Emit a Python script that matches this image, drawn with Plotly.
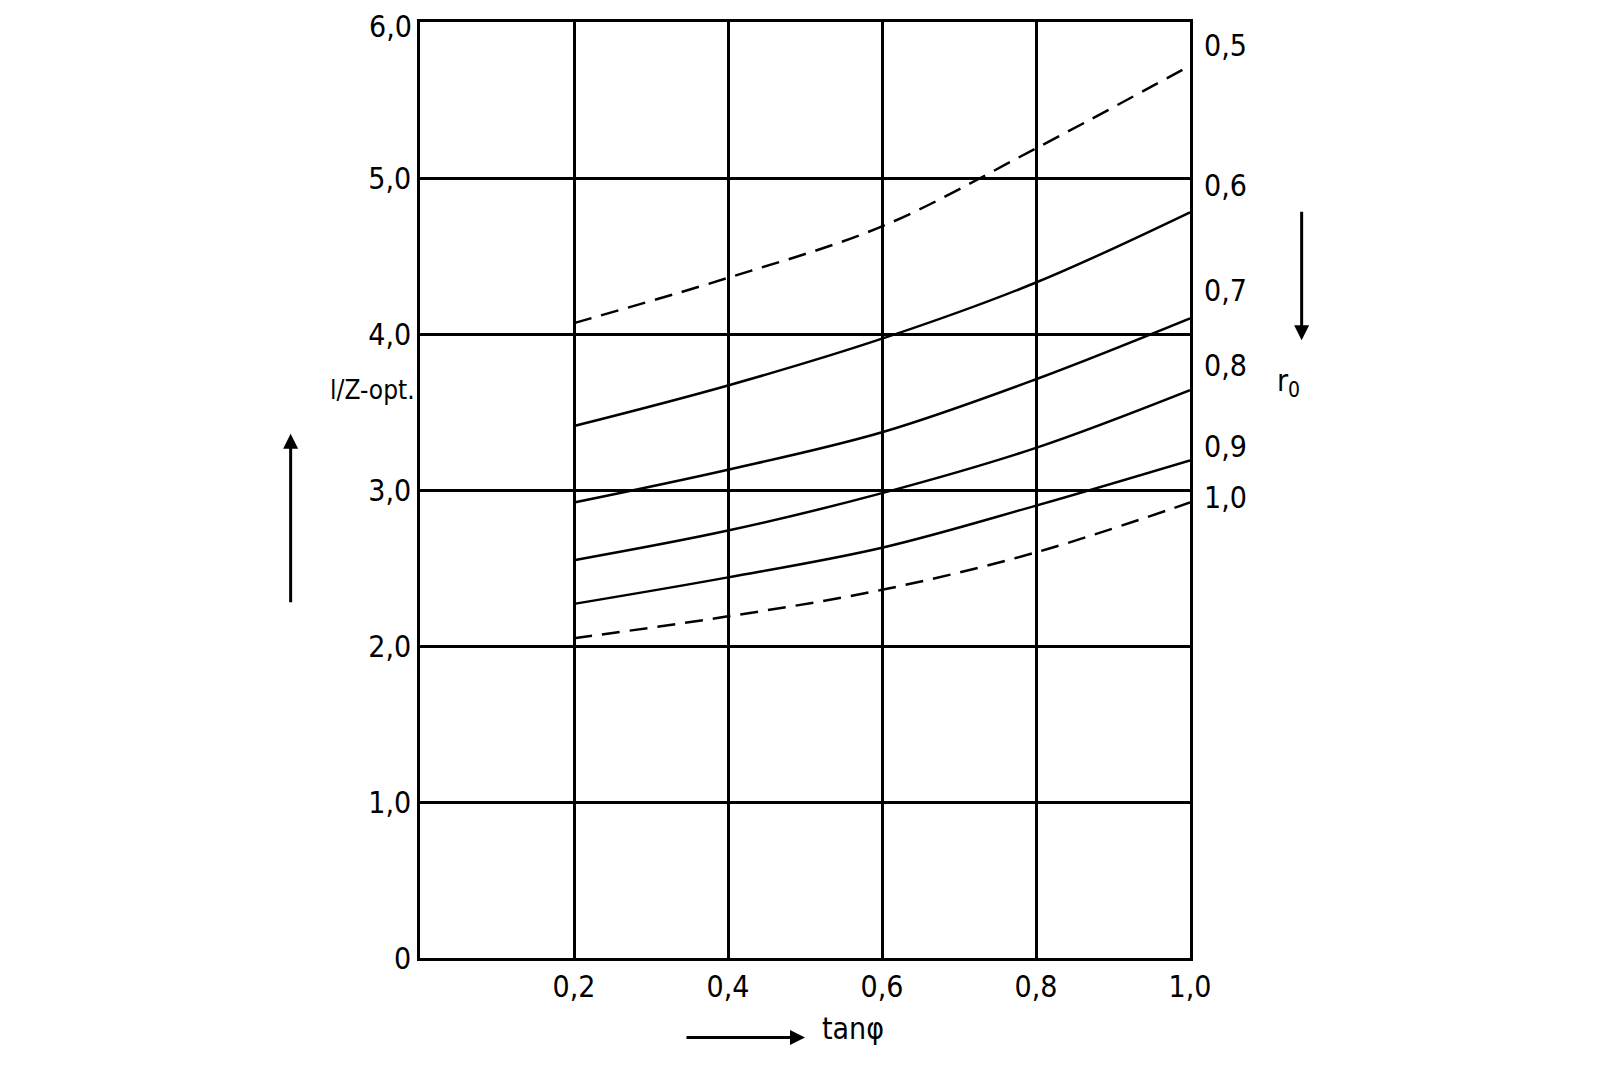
import plotly.graph_objects as go

x = [0.2, 0.4, 0.6, 0.8, 1.0]
curves = {
    "0,5": [4.07, 4.36, 4.69, 5.19, 5.72],
    "0,6": [3.41, 3.67, 3.97, 4.33, 4.78],
    "0,7": [2.92, 3.13, 3.37, 3.71, 4.10],
    "0,8": [2.55, 2.74, 2.98, 3.27, 3.64],
    "0,9": [2.27, 2.44, 2.63, 2.90, 3.19],
    "1,0": [2.05, 2.19, 2.36, 2.60, 2.92],
}
dashed = {"0,5", "1,0"}
label_y = {"0,5": 5.85, "0,6": 4.95, "0,7": 4.28, "0,8": 3.8, "0,9": 3.28, "1,0": 2.95}
yticks = [0, 1, 2, 3, 4, 5, 6]
ytext = ["0", "1,0", "2,0", "3,0", "4,0", "5,0", "6,0"]
xticks = [0.2, 0.4, 0.6, 0.8, 1.0]
xtext = ["0,2", "0,4", "0,6", "0,8", "1,0"]

F = dict(family="DejaVu Sans Condensed, DejaVu Sans", size=30, color="black")
fig = go.Figure()
for name, ys in curves.items():
    fig.add_trace(go.Scatter(x=x, y=ys, mode="lines", line_shape="spline",
                             line=dict(color="black", width=2.5,
                                       dash="18px,10px" if name in dashed else "solid"),
                             showlegend=False))
    fig.add_annotation(x=1.0, y=label_y[name], text=name, showarrow=False,
                       xanchor="left", xshift=12, font=F)

# top tick label (drawn as annotation so it is not clipped at the page edge)
fig.add_annotation(xref="paper", x=0, y=yticks[-1], text=ytext[-1], showarrow=False,
                   xanchor="right", xshift=-6, yshift=-4, font=F)

fig.add_annotation(xref="paper", yref="paper", x=-0.12, y=0.607, text="l/Z-opt.",
                   showarrow=False, font=dict(F, size=26))
fig.add_annotation(xref="paper", yref="paper", x=-0.168, y=0.56, ax=0, ay=170,
                   text="", showarrow=True,
                   arrowhead=2, arrowwidth=3, arrowcolor="black")
fig.add_annotation(xref="paper", yref="paper", x=1.145, y=0.66, ax=0, ay=-130,
                   text="", showarrow=True, arrowhead=2, arrowwidth=3, arrowcolor="black")
fig.add_annotation(xref="paper", yref="paper", x=1.145, y=0.615, text="r<sub>0</sub>",
                   showarrow=False, font=F)
fig.add_annotation(xref="paper", yref="paper", x=0.5, y=-0.085, ax=-120, ay=0,
                   text="", showarrow=True, arrowhead=2, arrowwidth=3, arrowcolor="black")
fig.add_annotation(xref="paper", yref="paper", x=0.52, y=-0.085, text="tanφ",
                   showarrow=False, xanchor="left", yshift=-10, font=F)

fig.update_xaxes(range=[0, 1.0], tickvals=xticks, ticktext=xtext, showgrid=True,
                 gridcolor="black", gridwidth=2.5, showline=True, linecolor="black",
                 linewidth=2.5, mirror=True, zeroline=False, tickfont=F, ticks="")
fig.update_yaxes(range=[0, 6.0], tickvals=yticks[:-1], ticktext=ytext[:-1], showgrid=True,
                 gridcolor="black", gridwidth=2.5, showline=True, linecolor="black",
                 linewidth=2.5, mirror=True, zeroline=False, tickfont=F, ticks="")
fig.update_layout(width=1600, height=1087, plot_bgcolor="white", paper_bgcolor="white",
                  margin=dict(l=412, r=418, t=14, b=137))
fig.write_html("out.html")
